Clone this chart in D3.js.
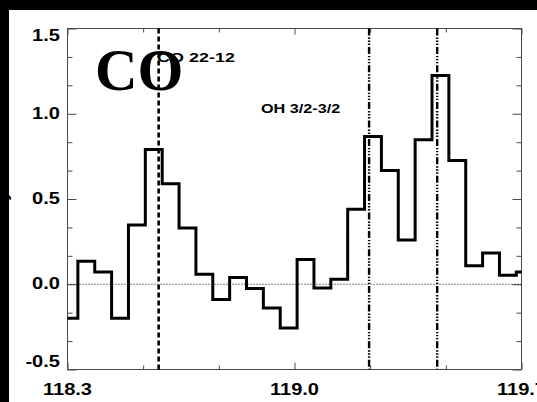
<!DOCTYPE html>
<html>
<head>
<meta charset="utf-8">
<script src="https://cdn.jsdelivr.net/npm/d3@7"></script>
<style>
  html, body { margin: 0; padding: 0; background: #fff; }
  svg { display: block; }
  .lab { font-family: "Liberation Sans", Arial, Helvetica, sans-serif; font-weight: bold; }
</style>
</head>
<body>
<svg id="chart" width="537" height="402"></svg>
<script>
// Wavelength bin centres (micron) of the spectrum
const binCenters = [118.306, 118.358, 118.410, 118.462, 118.514, 118.566, 118.618,
  118.670, 118.722, 118.774, 118.826, 118.878, 118.930, 118.982, 119.034, 119.086,
  119.138, 119.190, 119.242, 119.294, 119.346, 119.398, 119.450, 119.502, 119.554,
  119.606, 119.658, 119.710];
// Flux in each bin
const fluxValues = [-0.20, 0.135, 0.072, -0.20, 0.347, 0.79, 0.59, 0.33, 0.059, -0.09,
  0.039, -0.025, -0.14, -0.257, 0.145, -0.022, 0.029, 0.44, 0.867, 0.667, 0.259,
  0.847, 1.224, 0.726, 0.108, 0.184, 0.053, 0.072];

// Line identifications
const coLines = [118.581];
const coLabels = ["CO 22-12"];
const ohLines = [119.230, 119.440];
const ohLabels = ["OH 3/2-3/2"];
const bigTitle = "CO";

// Axis ticks
const xDomain = [118.3, 119.7];
const yDomain = [-0.5, 1.5];
const xMajorTicks = [118.3, 119.0, 119.7];
const xTickLabels = ["118.3", "119.0", "119.7"];
const xMinorTicks = [118.5333, 118.7667, 119.2333, 119.4667];
const yMajorTicks = [-0.5, 0.0, 0.5, 1.0, 1.5];
const yTickLabels = ["-0.5", "0.0", "0.5", "1.0", "1.5"];
const yMinorTicks = [-0.3333, -0.1667, 0.1667, 0.3333, 0.6667, 0.8333, 1.1667, 1.3333];

const W = 537, H = 402;
const plot = { left: 67.5, right: 521.5, top: 28.5, bottom: 369.5 };

const svg = d3.select("#chart");
const x = d3.scaleLinear().domain(xDomain).range([plot.left, plot.right]);
const y = d3.scaleLinear().domain(yDomain).range([plot.bottom, plot.top]);

svg.append("rect").attr("width", W).attr("height", H).attr("fill", "#fff");

svg.append("defs").append("clipPath").attr("id", "plotclip")
  .append("rect")
  .attr("x", plot.left).attr("y", plot.top)
  .attr("width", plot.right - plot.left).attr("height", plot.bottom - plot.top);

const frameColor = "#4a4a4a";

// Tick marks on all four sides, pointing inward
function tickAxis(gen, vals, size, transform) {
  const g = svg.append("g").attr("transform", transform)
    .call(gen.tickValues(vals).tickSize(size).tickFormat(""));
  g.select(".domain").remove();
  g.selectAll(".tick line").attr("stroke", frameColor).attr("stroke-width", 1);
  g.selectAll(".tick text").remove();
  return g;
}
tickAxis(d3.axisBottom(x), xMajorTicks, -7, `translate(0,${plot.bottom})`);
tickAxis(d3.axisBottom(x), xMinorTicks, -4, `translate(0,${plot.bottom})`);
tickAxis(d3.axisTop(x), xMajorTicks, -6, `translate(0,${plot.top})`);
tickAxis(d3.axisTop(x), xMinorTicks, -4, `translate(0,${plot.top})`);
tickAxis(d3.axisLeft(y), yMajorTicks, -9, `translate(${plot.left},0)`);
tickAxis(d3.axisLeft(y), yMinorTicks, -5, `translate(${plot.left},0)`);
tickAxis(d3.axisRight(y), yMajorTicks, -9, `translate(${plot.right},0)`);
tickAxis(d3.axisRight(y), yMinorTicks, -5, `translate(${plot.right},0)`);

// Frame
svg.append("rect")
  .attr("x", plot.left).attr("y", plot.top)
  .attr("width", plot.right - plot.left).attr("height", plot.bottom - plot.top)
  .attr("fill", "none").attr("stroke", frameColor).attr("stroke-width", 1);

// Zero level
svg.append("line")
  .attr("x1", plot.left).attr("x2", plot.right)
  .attr("y1", y(0)).attr("y2", y(0))
  .attr("stroke", "#000").attr("stroke-width", 1)
  .attr("stroke-dasharray", "1,2");

// Line markers
svg.append("g").selectAll("line").data(coLines).join("line")
  .attr("x1", d => x(d)).attr("x2", d => x(d))
  .attr("y1", plot.top).attr("y2", plot.bottom)
  .attr("stroke", "#000").attr("stroke-width", 2.6)
  .attr("stroke-dasharray", "5,3");
svg.append("g").selectAll("line").data(ohLines).join("line")
  .attr("x1", d => x(d)).attr("x2", d => x(d))
  .attr("y1", plot.top).attr("y2", plot.bottom)
  .attr("stroke", "#000").attr("stroke-width", 2.4)
  .attr("stroke-dasharray", "7,2,1.4,1.6,1.4,1.6,1.4,2");

// Histogram-style step trace
const edges = binCenters.map((c, i) => {
  if (i === 0) return c - (binCenters[1] - c) / 2;
  return (binCenters[i - 1] + c) / 2;
});
edges.push(binCenters[binCenters.length - 1] +
  (binCenters[binCenters.length - 1] - binCenters[binCenters.length - 2]) / 2);
const stepPath = d3.path();
fluxValues.forEach((v, i) => {
  if (i === 0) stepPath.moveTo(x(edges[0]), y(v));
  else stepPath.lineTo(x(edges[i]), y(v));
  stepPath.lineTo(x(edges[i + 1]), y(v));
});
svg.append("path")
  .attr("d", stepPath.toString())
  .attr("clip-path", "url(#plotclip)")
  .attr("fill", "none").attr("stroke", "#000")
  .attr("stroke-width", 3).attr("stroke-linejoin", "miter");

// Helper: stretch Helvetica-like text horizontally
function widen(sel, factor) {
  sel.each(function () {
    const len = this.getComputedTextLength();
    d3.select(this).attr("textLength", len * factor).attr("lengthAdjust", "spacingAndGlyphs");
  });
}

// Tick labels
const xl = svg.append("g").selectAll("text").data(xMajorTicks).join("text")
  .attr("class", "lab")
  .attr("x", d => x(d)).attr("y", 395)
  .attr("text-anchor", "middle")
  .attr("font-size", 17).attr("fill", "#000")
  .text((d, i) => xTickLabels[i]);
widen(xl, 1.18);

const yl = svg.append("g").selectAll("text").data(yMajorTicks).join("text")
  .attr("class", "lab")
  .attr("x", 60)
  .attr("y", d => Math.min(Math.max(y(d) - 1, plot.top + 6.5), plot.bottom - 8.5))
  .attr("dy", "0.36em")
  .attr("text-anchor", "end")
  .attr("font-size", 17).attr("fill", "#000")
  .text((d, i) => yTickLabels[i]);
widen(yl, 1.18);

// Line labels
const cl = svg.append("text").attr("class", "lab")
  .attr("x", x(coLines[0]) - 1.5).attr("y", 62)
  .attr("font-size", 13).attr("fill", "#000")
  .text(coLabels[0]);
widen(cl, 1.38);
const ol = svg.append("text").attr("class", "lab")
  .attr("x", 261).attr("y", 113)
  .attr("font-size", 13.5).attr("fill", "#000")
  .text(ohLabels[0]);
widen(ol, 1.2);

// Large species title
svg.append("text")
  .attr("x", 95).attr("y", 90)
  .attr("font-family", "'Liberation Serif', 'Times New Roman', serif")
  .attr("font-weight", "bold").attr("font-size", 59)
  .attr("fill", "#000")
  .text(bigTitle);

// Y-axis title, mostly beyond the page edge
svg.append("text").attr("class", "lab")
  .attr("transform", "translate(8,196) rotate(-90)")
  .attr("text-anchor", "middle")
  .attr("font-size", 16).attr("fill", "#000")
  .text("y");

// Dark border strips
svg.append("rect").attr("x", 0).attr("y", 0).attr("width", W).attr("height", 10).attr("fill", "#000");
svg.append("rect").attr("x", 0).attr("y", 0).attr("width", 9).attr("height", H).attr("fill", "#000");
</script>
</body>
</html>
